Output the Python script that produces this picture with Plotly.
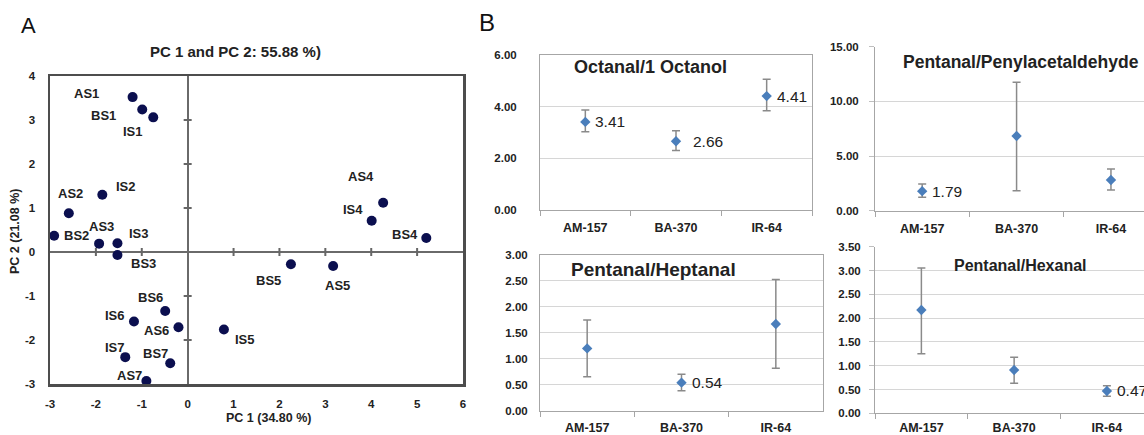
import plotly.graph_objects as go

W, H = 1144, 435

# ---------------- Panel A data (PCA scores) ----------------
pca_labels = ["AS1", "BS1", "IS1", "AS2", "IS2", "BS2", "AS3", "IS3", "BS3",
              "AS4", "IS4", "BS4", "BS5", "AS5", "IS5",
              "BS6", "IS6", "AS6", "IS7", "BS7", "AS7"]
pc1 = [-1.20, -0.99, -0.75, -2.59, -1.86, -2.91, -1.93, -1.53, -1.53,
       4.26, 4.01, 5.20, 2.25, 3.17, 0.79,
       -0.49, -1.17, -0.20, -1.36, -0.38, -0.90]
pc2 = [3.52, 3.24, 3.06, 0.88, 1.30, 0.37, 0.19, 0.20, -0.07,
       1.12, 0.71, 0.32, -0.28, -0.32, -1.76,
       -1.34, -1.58, -1.71, -2.39, -2.53, -2.93]
pc1_ticks = [-3, -2, -1, 0, 1, 2, 3, 4, 5, 6]
pc1_ticktext = ["-3", "-2", "-1", "0", "1", "2", "3", "4", "5", "6"]
pc2_ticks = [-3, -2, -1, 0, 1, 2, 3, 4]
pc2_ticktext = ["-3", "-2", "-1", "0", "1", "2", "3", "4"]

# label offsets in screen pixels (dx right, dy down)
label_offsets = {
    "AS1": (-46, -4), "BS1": (-39, 6), "IS1": (-20, 14), "AS2": (2, -20),
    "IS2": (24, -8), "BS2": (22, 0), "AS3": (2, -17), "IS3": (22, -10),
    "BS3": (26, 8), "AS4": (-22, -26), "IS4": (-19, -11), "BS4": (-21, -3),
    "BS5": (-22, 16), "AS5": (4, 19), "IS5": (21, 10), "BS6": (-15, -13),
    "IS6": (-19, -6), "AS6": (-22, 3), "IS7": (-10, -10), "BS7": (-15, -10),
    "AS7": (-17, -5),
}

# ---------------- Panel B data ----------------
varieties = ["AM-157", "BA-370", "IR-64"]

octanal_val = [3.41, 2.66, 4.41]
octanal_hi = [3.87, 3.07, 5.06]
octanal_lo = [3.03, 2.30, 3.84]

phenyl_val = [1.79, 6.83, 2.81]
phenyl_hi = [2.44, 11.75, 3.82]
phenyl_lo = [1.23, 1.83, 1.89]

heptanal_val = [1.20, 0.54, 1.67]
heptanal_hi = [1.75, 0.70, 2.53]
heptanal_lo = [0.655, 0.385, 0.82]

hexanal_val = [2.17, 0.91, 0.47]
hexanal_hi = [3.05, 1.18, 0.58]
hexanal_lo = [1.25, 0.63, 0.36]

FONT = "Liberation Sans, Arial, sans-serif"


def px(x):
    return x / W


def py(y):
    return 1 - y / H


fig = go.Figure()

# ---------- Panel A ----------
fig.add_trace(go.Scatter(
    x=pc1, y=pc2, mode="markers", xaxis="x", yaxis="y",
    marker=dict(size=10, color="#0b0f4f"), showlegend=False, cliponaxis=False))

annotations = []
for lab, xv, yv in zip(pca_labels, pc1, pc2):
    dx, dy = label_offsets[lab]
    annotations.append(dict(
        x=xv, y=yv, xref="x", yref="y", text=lab, showarrow=False,
        xanchor="center", yanchor="middle",
        xshift=dx, yshift=-dy,
        font=dict(family=FONT, size=13, color="#222", weight="bold")))

shapes = []
for v in pc1_ticks:
    if v in (0, pc1_ticks[0], pc1_ticks[-1]):
        continue
    shapes.append(dict(type="line", xref="x", yref="y", x0=v, x1=v,
                       ysizemode="pixel", yanchor=0, y0=-4, y1=4,
                       line=dict(color="#666", width=2)))
for v in pc2_ticks:
    if v in (0, pc2_ticks[0], pc2_ticks[-1]):
        continue
    shapes.append(dict(type="line", xref="x", yref="y", y0=v, y1=v,
                       xsizemode="pixel", xanchor=0, x0=-4, x1=4,
                       line=dict(color="#666", width=2)))

axA_common = dict(showgrid=False, showline=True, mirror=True, linecolor="#4d4d4d",
                  linewidth=2.5, zeroline=True, zerolinecolor="#6a6a6a",
                  zerolinewidth=2, ticks="", automargin=False,
                  tickfont=dict(family=FONT, size=11.5, color="#222", weight="bold"))
fig.update_layout(
    xaxis=dict(domain=[px(50), px(463)], range=[-3, 6], anchor="y",
               tickmode="array", tickvals=pc1_ticks, ticktext=pc1_ticktext,
               ticklabelstandoff=8, **axA_common),
    yaxis=dict(domain=[py(384), py(76)], range=[-3, 4], anchor="x",
               tickmode="array", tickvals=pc2_ticks, ticktext=pc2_ticktext,
               ticklabelstandoff=10, **axA_common),
)


def paper_text(x, y, text, size, bold=True, angle=0, color="#222"):
    return dict(x=px(x), y=py(y), xref="paper", yref="paper", text=text,
                showarrow=False, xanchor="center", yanchor="middle",
                textangle=angle,
                font=dict(family=FONT, size=size, color=color,
                          weight="bold" if bold else "normal"))


annotations += [
    paper_text(28, 25, "A", 22, bold=False, color="#111"),
    paper_text(487, 23, "B", 24, bold=False, color="#111"),
    paper_text(235, 51, "PC 1 and PC 2: 55.88 %)", 15),
    paper_text(268, 418, "PC 1 (34.80 %)", 12.5),
    paper_text(15, 232, "PC 2 (21.08 %)", 12.5, angle=-90),
]

# ---------- Panel B ----------
panels = [
    # (vals, hi, lo, labelled idx, title, title size, title pos, xdom, ydom,
    #  yrange, dtick, xrange, boxed, y standoff, x standoff)
    (octanal_val, octanal_hi, octanal_lo, [0, 1, 2], "Octanal/1 Octanol", 18, (650, 67),
     (540, 812), (210, 55), [0, 6], 2, [-0.5, 2.5], True, 20, 6),
    (phenyl_val, phenyl_hi, phenyl_lo, [0], "Pentanal/Penylacetaldehyde", 17.5, (1021, 62),
     (875, 1144), (210.7, 46.7), [0, 15], 5, [-0.5, 2.35], False, 8, 6),
    (heptanal_val, heptanal_hi, heptanal_lo, [1], "Pentanal/Heptanal", 19, (653, 269),
     (540, 823), (410.7, 255), [0, 3], 0.5, [-0.5, 2.5], True, 9, 5),
    (hexanal_val, hexanal_hi, hexanal_lo, [2], "Pentanal/Hexanal", 16, (1020, 265),
     (875, 1144), (413.3, 246.7), [0, 3.5], 0.5, [-0.5, 2.4], False, 6, 3),
]
label_shift = {("Octanal/1 Octanol", 1): 15}

layout_axes = {}
for i, (vals, hi, lo, lab_idx, title, tsize, tpos, xdom, ydom, yr, dt, xr, boxed,
        standoff, xstandoff) in enumerate(panels):
    n = i + 2
    xa, ya = f"x{n}", f"y{n}"
    fig.add_trace(go.Scatter(
        x=varieties, y=vals, xaxis=xa, yaxis=ya, mode="markers", showlegend=False,
        marker=dict(symbol="diamond", size=8, color="#4a7ebb"),
        error_y=dict(type="data", symmetric=False,
                     array=[h - v for h, v in zip(hi, vals)],
                     arrayminus=[v - l for v, l in zip(vals, lo)],
                     color="#8a8a8a", thickness=1.5, width=4)))
    for j in lab_idx:
        annotations.append(dict(
            x=varieties[j], y=vals[j], xref=xa, yref=ya, text=f"{vals[j]:.2f}",
            showarrow=False, xanchor="left", yanchor="middle",
            xshift=label_shift.get((title, j), 8),
            font=dict(family=FONT, size=15.5, color="#222")))
    annotations.append(paper_text(tpos[0], tpos[1], title, tsize))
    layout_axes[f"xaxis{n}"] = dict(
        domain=[px(xdom[0]), px(xdom[1])], anchor=ya, type="category",
        categoryorder="array", categoryarray=varieties, range=xr,
        showgrid=False, zeroline=False, showline=True, linecolor="#a6a6a6",
        linewidth=1, mirror=boxed, ticks="outside", tickson="boundaries",
        ticklen=5, tickcolor="#a6a6a6", automargin=False,
        ticklabelstandoff=xstandoff,
        tickfont=dict(family=FONT, size=12.5, color="#222", weight="bold"))
    layout_axes[f"yaxis{n}"] = dict(
        domain=[py(ydom[0]), py(ydom[1])], anchor=xa, range=yr, dtick=dt,
        tickformat=".2f", showgrid=True, gridcolor="#d6d6d6", gridwidth=1,
        zeroline=False, showline=True, linecolor="#a6a6a6", linewidth=1,
        mirror=boxed, ticks="" if boxed else "outside", ticklen=5,
        tickcolor="#bfbfbf", ticklabelstandoff=standoff, automargin=False,
        tickfont=dict(family=FONT, size=11.5, color="#222", weight="bold"))

fig.update_layout(**layout_axes)
fig.update_layout(
    width=W, height=H, autosize=False,
    margin=dict(l=0, r=0, t=0, b=0, pad=0),
    paper_bgcolor="white", plot_bgcolor="white",
    font=dict(family=FONT),
    annotations=annotations, shapes=shapes,
    showlegend=False,
)

fig.write_html("out.html",
               config={"displayModeBar": False, "staticPlot": True},
               post_script="document.body.style.margin='0';"
                           "document.body.style.overflow='hidden';")
